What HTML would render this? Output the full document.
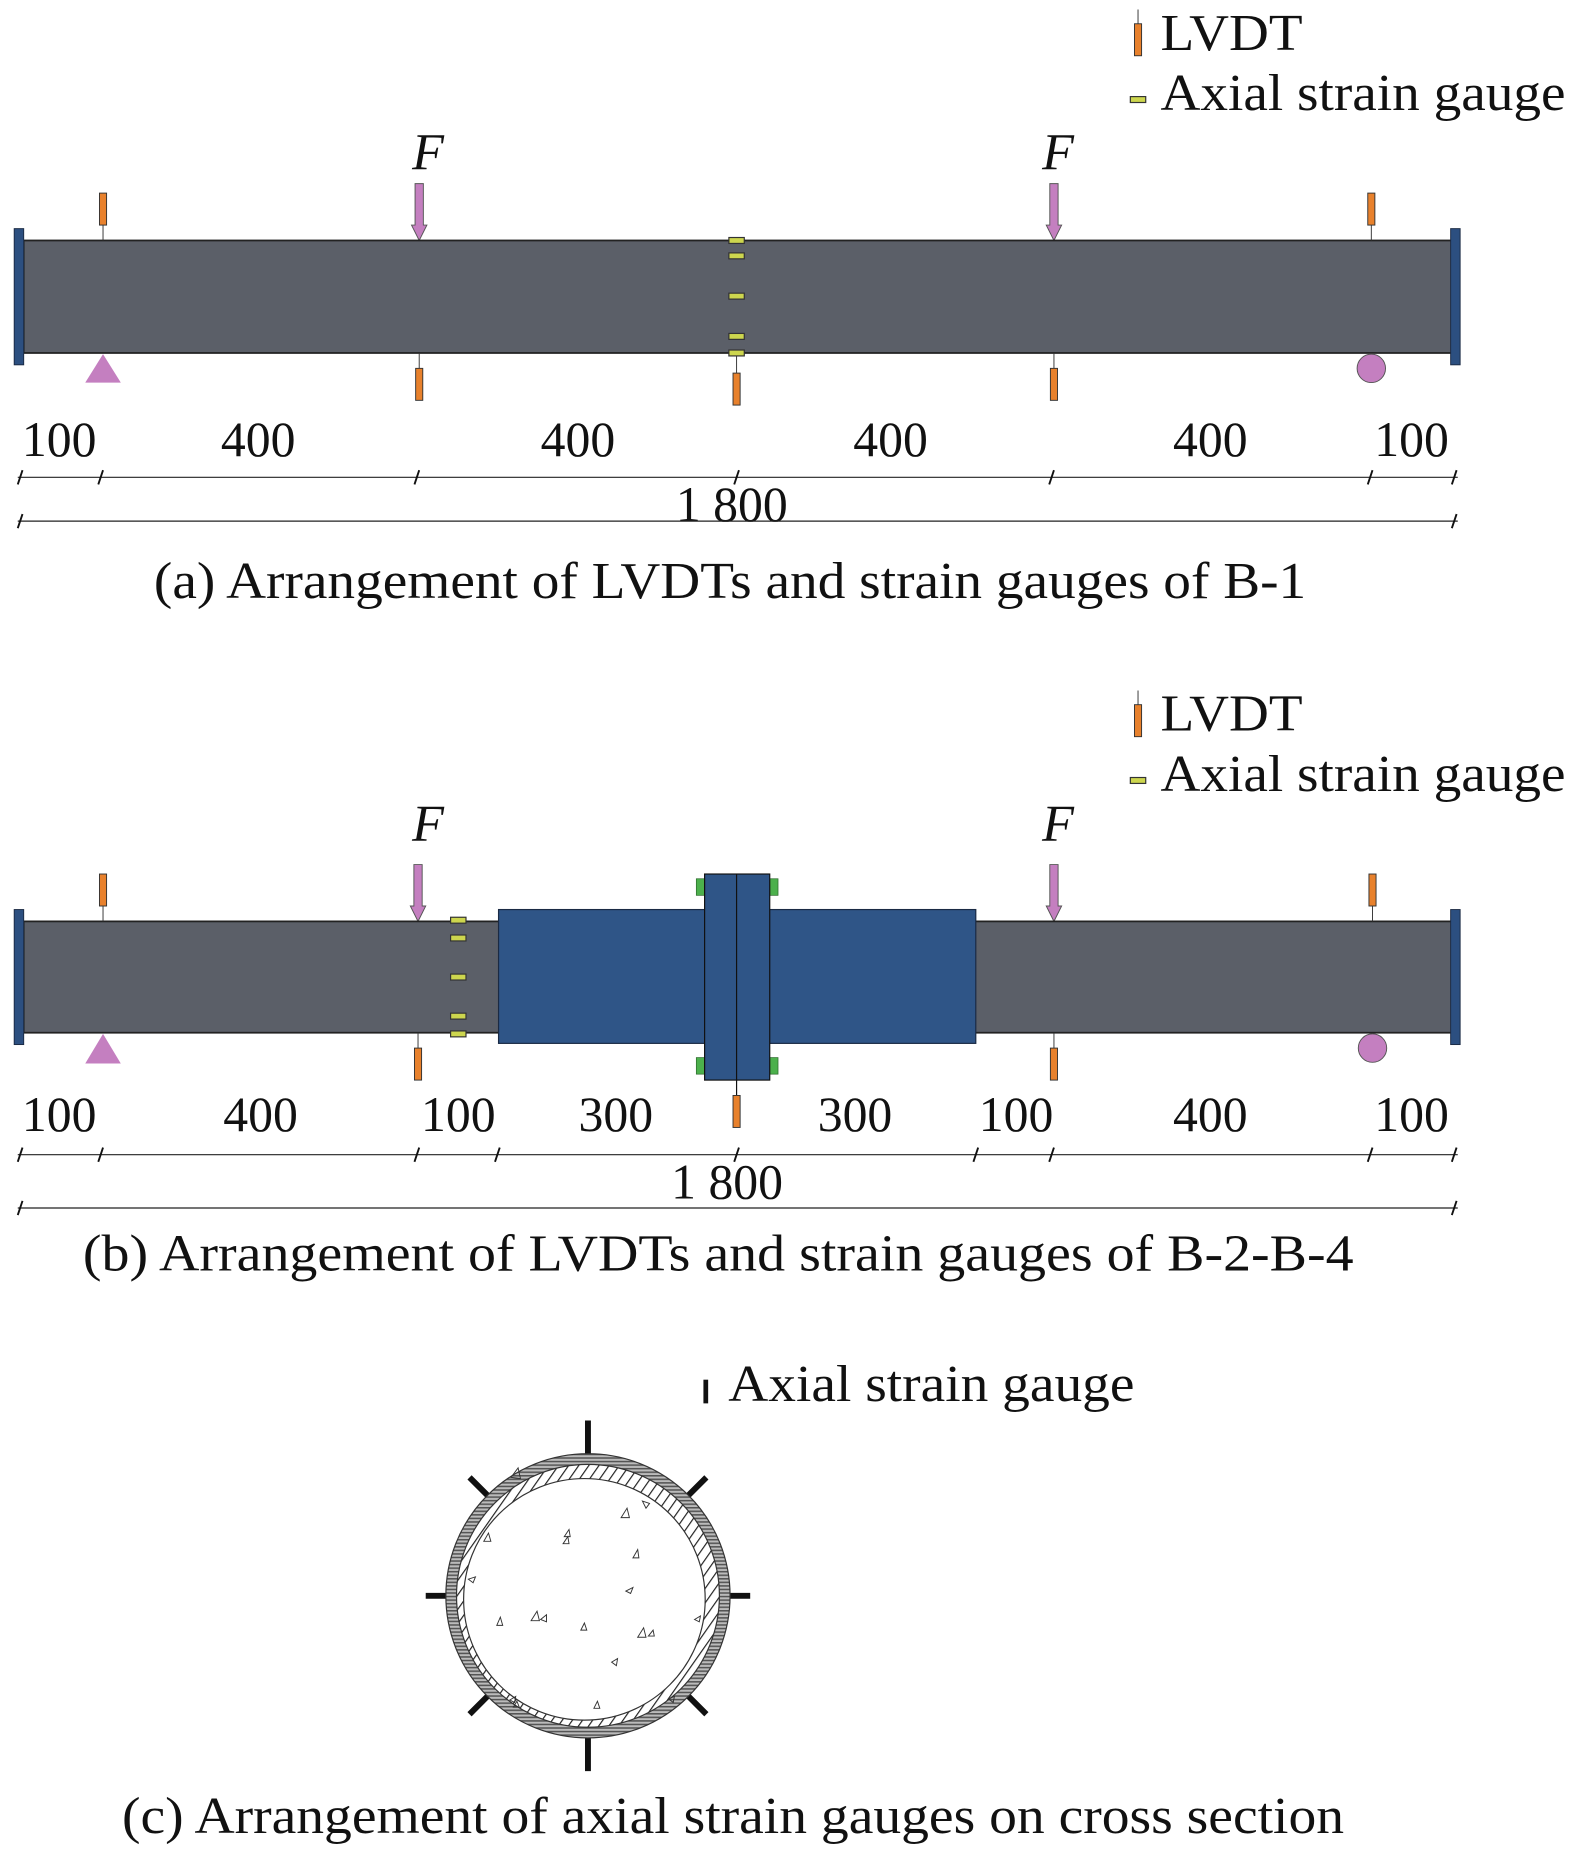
<!DOCTYPE html>
<html><head><meta charset="utf-8"><style>html,body{margin:0;padding:0;background:#fff}svg{display:block}svg text{font-family:"Liberation Serif","Times New Roman",serif}</style></head>
<body>
<svg width="1575" height="1857" viewBox="0 0 1330 1568" xmlns="http://www.w3.org/2000/svg" style="font-family:'Liberation Serif',serif" fill="#111">
<defs>
<pattern id="hz" width="4" height="3" patternUnits="userSpaceOnUse"><rect width="4" height="3" fill="#bbb"/><rect width="4" height="1.3" fill="#555"/></pattern>
<pattern id="dg" width="7" height="7" patternUnits="userSpaceOnUse" patternTransform="rotate(35)"><rect width="7" height="7" fill="#fff"/><rect width="1" height="7" fill="#222"/></pattern>
<g id="lvdt"><rect x="-3" y="0" width="6" height="27" fill="#e8812c" stroke="#333" stroke-width="0.8"/></g>
<g id="sg"><rect x="-6.5" y="-2.5" width="13" height="5" fill="#cdd64e" stroke="#333" stroke-width="1"/></g>
<g id="arrow"><path d="M-3.5 0 H3.5 V35 H6.5 L0 48 L-6.5 35 H-3.5 Z" fill="#c47fc0" stroke="#555" stroke-width="0.8"/></g>
<g id="tk"><line x1="-2" y1="6" x2="2" y2="-6" stroke="#111" stroke-width="1.6"/></g>
</defs>

<!-- ===== (a) ===== -->
<line x1="961" y1="8" x2="961" y2="20" stroke="#333" stroke-width="0.8"/>
<use href="#lvdt" x="961" y="20"/>
<text x="980" y="42" font-size="44" textLength="120" lengthAdjust="spacingAndGlyphs">LVDT</text>
<use href="#sg" x="961" y="84"/>
<text x="980" y="93" font-size="44" textLength="342" lengthAdjust="spacingAndGlyphs">Axial strain gauge</text>

<text x="348" y="143" font-size="44" font-style="italic">F</text>
<text x="880" y="143" font-size="44" font-style="italic">F</text>
<use href="#arrow" x="354" y="155"/>
<use href="#arrow" x="890" y="155"/>

<rect x="20" y="203" width="1206" height="95" fill="#5b5f68" stroke="#222" stroke-width="1.5"/>
<rect x="12" y="193" width="8" height="115" fill="#2c4f80" stroke="#1a2a44" stroke-width="0.8"/>
<rect x="1225" y="193" width="8" height="115" fill="#2c4f80" stroke="#1a2a44" stroke-width="0.8"/>

<line x1="87" y1="190" x2="87" y2="203" stroke="#333" stroke-width="0.8"/><use href="#lvdt" x="87" y="163"/>
<line x1="1158" y1="190" x2="1158" y2="203" stroke="#333" stroke-width="0.8"/><use href="#lvdt" x="1158" y="163"/>
<line x1="354" y1="298" x2="354" y2="311" stroke="#333" stroke-width="0.8"/><use href="#lvdt" x="354" y="311"/>
<line x1="622" y1="298" x2="622" y2="315" stroke="#333" stroke-width="0.8"/><use href="#lvdt" x="622" y="315"/>
<line x1="890" y1="298" x2="890" y2="311" stroke="#333" stroke-width="0.8"/><use href="#lvdt" x="890" y="311"/>

<use href="#sg" x="622" y="203"/><use href="#sg" x="622" y="216"/><use href="#sg" x="622" y="250"/><use href="#sg" x="622" y="284"/><use href="#sg" x="622" y="298"/>

<polygon points="87,299 102,323 72,323" fill="#c47fc0"/>
<circle cx="1158" cy="311" r="12" fill="#c47fc0" stroke="#555" stroke-width="0.8"/>

<g font-size="42" text-anchor="middle">
<text x="50" y="385">100</text><text x="218" y="385">400</text><text x="488" y="385">400</text><text x="752" y="385">400</text><text x="1022" y="385">400</text><text x="1192" y="385">100</text>
<text x="618" y="440">1 800</text>
</g>
<line x1="15" y1="403" x2="1231" y2="403" stroke="#222" stroke-width="1"/>
<use href="#tk" x="17" y="403"/><use href="#tk" x="85" y="403"/><use href="#tk" x="352" y="403"/><use href="#tk" x="622" y="403"/><use href="#tk" x="888" y="403"/><use href="#tk" x="1157" y="403"/><use href="#tk" x="1228" y="403"/>
<line x1="15" y1="440" x2="1231" y2="440" stroke="#222" stroke-width="1"/>
<use href="#tk" x="17" y="440"/><use href="#tk" x="1228" y="440"/>
<text x="130" y="505" font-size="44" textLength="973" lengthAdjust="spacingAndGlyphs">(a) Arrangement of LVDTs and strain gauges of B-1</text>

<!-- ===== (b) ===== -->
<line x1="961" y1="583" x2="961" y2="595" stroke="#333" stroke-width="0.8"/>
<use href="#lvdt" x="961" y="595"/>
<text x="980" y="617" font-size="44" textLength="120" lengthAdjust="spacingAndGlyphs">LVDT</text>
<use href="#sg" x="961" y="659"/>
<text x="980" y="668" font-size="44" textLength="342" lengthAdjust="spacingAndGlyphs">Axial strain gauge</text>

<text x="348" y="710" font-size="44" font-style="italic">F</text>
<text x="880" y="710" font-size="44" font-style="italic">F</text>
<use href="#arrow" x="353" y="730"/>
<use href="#arrow" x="890" y="730"/>

<rect x="20" y="778" width="1206" height="94" fill="#5b5f68" stroke="#222" stroke-width="1.5"/>
<rect x="12" y="768" width="8" height="114" fill="#2c4f80" stroke="#1a2a44" stroke-width="0.8"/>
<rect x="1225" y="768" width="8" height="114" fill="#2c4f80" stroke="#1a2a44" stroke-width="0.8"/>
<rect x="421" y="768" width="403" height="113" fill="#2f5587" stroke="#1a2a44" stroke-width="1"/>
<rect x="588" y="742" width="7" height="14" fill="#4cb04c" stroke="#2a6a2a" stroke-width="0.6"/>
<rect x="650" y="742" width="7" height="14" fill="#4cb04c" stroke="#2a6a2a" stroke-width="0.6"/>
<rect x="588" y="893" width="7" height="14" fill="#4cb04c" stroke="#2a6a2a" stroke-width="0.6"/>
<rect x="650" y="893" width="7" height="14" fill="#4cb04c" stroke="#2a6a2a" stroke-width="0.6"/>
<rect x="595" y="738" width="55" height="174" fill="#2f5587" stroke="#111" stroke-width="1"/>
<line x1="622" y1="738" x2="622" y2="925" stroke="#111" stroke-width="1"/>

<line x1="87" y1="765" x2="87" y2="778" stroke="#333" stroke-width="0.8"/><use href="#lvdt" x="87" y="738"/>
<line x1="1159" y1="765" x2="1159" y2="778" stroke="#333" stroke-width="0.8"/><use href="#lvdt" x="1159" y="738"/>
<line x1="353" y1="872" x2="353" y2="885" stroke="#333" stroke-width="0.8"/><use href="#lvdt" x="353" y="885"/>
<use href="#lvdt" x="622" y="925"/>
<line x1="890" y1="872" x2="890" y2="885" stroke="#333" stroke-width="0.8"/><use href="#lvdt" x="890" y="885"/>

<use href="#sg" x="387" y="777"/><use href="#sg" x="387" y="792"/><use href="#sg" x="387" y="825"/><use href="#sg" x="387" y="858"/><use href="#sg" x="387" y="873"/>

<polygon points="87,873 102,898 72,898" fill="#c47fc0"/>
<circle cx="1159" cy="885" r="12" fill="#c47fc0" stroke="#555" stroke-width="0.8"/>

<g font-size="42" text-anchor="middle">
<text x="50" y="955">100</text><text x="220" y="955">400</text><text x="387" y="955">100</text><text x="520" y="955">300</text><text x="722" y="955">300</text><text x="858" y="955">100</text><text x="1022" y="955">400</text><text x="1192" y="955">100</text>
<text x="614" y="1012">1 800</text>
</g>
<line x1="15" y1="975" x2="1231" y2="975" stroke="#222" stroke-width="1"/>
<use href="#tk" x="17" y="975"/><use href="#tk" x="85" y="975"/><use href="#tk" x="352" y="975"/><use href="#tk" x="420" y="975"/><use href="#tk" x="622" y="975"/><use href="#tk" x="824" y="975"/><use href="#tk" x="888" y="975"/><use href="#tk" x="1157" y="975"/><use href="#tk" x="1228" y="975"/>
<line x1="15" y1="1020" x2="1231" y2="1020" stroke="#222" stroke-width="1"/>
<use href="#tk" x="17" y="1020"/><use href="#tk" x="1228" y="1020"/>
<text x="70" y="1073" font-size="44" textLength="1073" lengthAdjust="spacingAndGlyphs">(b) Arrangement of LVDTs and strain gauges of B-2-B-4</text>

<!-- ===== (c) ===== -->
<rect x="594" y="1165" width="4" height="20" fill="#111"/>
<text x="615" y="1183" font-size="44" textLength="343" lengthAdjust="spacingAndGlyphs">Axial strain gauge</text>

<g transform="translate(496.5,1347.5)">
<g stroke="#111" stroke-width="5">
<line x1="0" y1="-120" x2="0" y2="-148"/><line x1="0" y1="120" x2="0" y2="148"/>
<line x1="-120" y1="0" x2="-137" y2="0"/><line x1="120" y1="0" x2="137" y2="0"/>
<line x1="-85" y1="-85" x2="-100" y2="-100"/><line x1="85" y1="-85" x2="100" y2="-100"/>
<line x1="-85" y1="85" x2="-100" y2="100"/><line x1="85" y1="85" x2="100" y2="100"/>
</g>
<circle r="120" fill="url(#hz)" stroke="#333" stroke-width="1"/>
<circle r="111" fill="url(#dg)" stroke="#333" stroke-width="1"/>
<circle cx="-3" cy="3" r="102" fill="#fff" stroke="#333" stroke-width="1"/>
<g fill="none" stroke="#333" stroke-width="0.8">
<path d="M-65 -100 l6 -8 l2 9 z"/><path d="M28 -66 l5 -8 l2 8 z"/><path d="M52 -78 l-6 -2 l3 6 z"/>
<path d="M-88 -46 l4 -7 l2 7 z"/><path d="M-20 -50 l4 -6 l1 6 z"/><path d="M-21 -44 l4 -6 l1 6 z"/>
<path d="M38 -32 l4 -7 l1 7 z"/><path d="M-101 -14 l6 -2 l-2 5 z"/><path d="M32 -4 l6 -3 l-2 5 z"/>
<path d="M-77 25 l3 -7 l2 7 z"/><path d="M-48 21 l5 -8 l2 8 z"/><path d="M-40 20 l5 -4 l0 6 z"/>
<path d="M-6 29 l3 -6 l2 6 z"/><path d="M42 35 l5 -8 l2 8 z"/><path d="M51 34 l4 -5 l1 5 z"/>
<path d="M90 20 l5 -3 l-1 5 z"/><path d="M20 56 l5 -3 l-1 6 z"/><path d="M-66 88 l5 -3 l-1 5 z"/>
<path d="M-63 94 l3 -5 l2 5 z"/><path d="M5 95 l3 -6 l2 6 z"/><path d="M68 87 l5 -2 l-1 5 z"/>
</g>
</g>

<text x="103" y="1548" font-size="44" textLength="1032" lengthAdjust="spacingAndGlyphs">(c) Arrangement of axial strain gauges on cross section</text>
</svg>
</body></html>
